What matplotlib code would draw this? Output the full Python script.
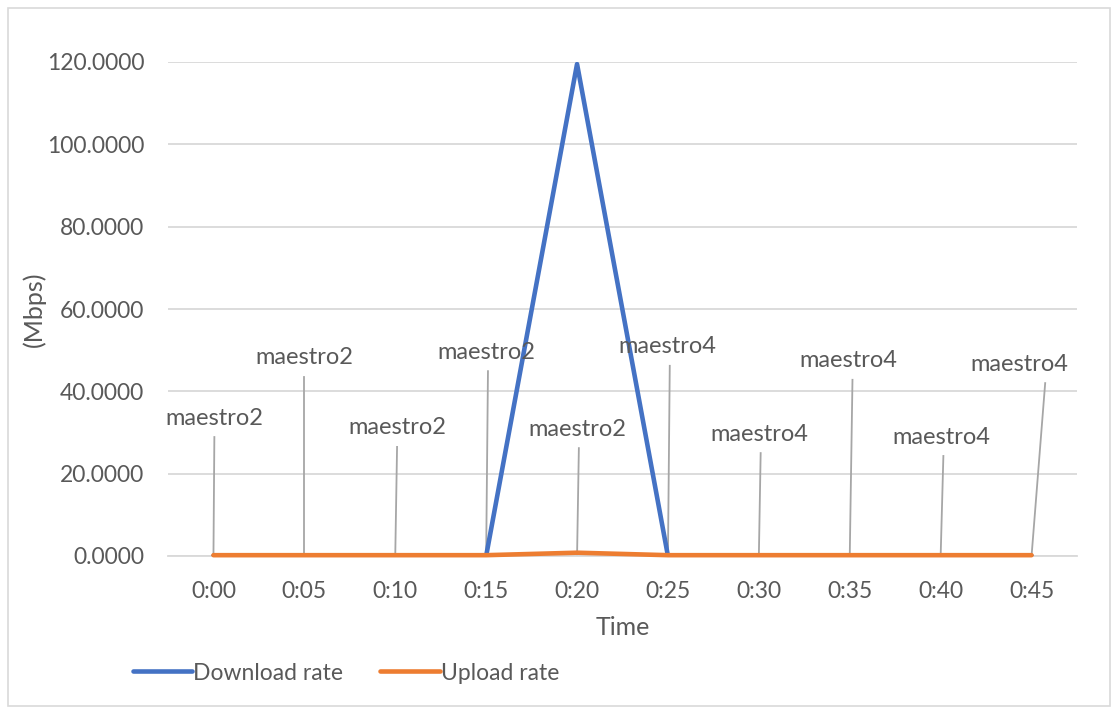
import matplotlib
matplotlib.use("Agg")
import matplotlib.pyplot as plt
from matplotlib.patches import Rectangle

times = ["0:00", "0:05", "0:10", "0:15", "0:20", "0:25", "0:30", "0:35", "0:40", "0:45"]
download = [0, 0, 0, 0, 119.5, 0, 0, 0, 0, 0]
upload = [0.2, 0.2, 0.2, 0.2, 0.8, 0.2, 0.2, 0.2, 0.2, 0.2]
hosts = ["maestro2", "maestro2", "maestro2", "maestro2", "maestro2",
         "maestro4", "maestro4", "maestro4", "maestro4", "maestro4"]

# where each leader line ends (x shift in categories, y in Mbps)
label_dx = [0.01, 0, 0.02, 0.02, 0.02, 0.02, 0.02, 0.03, 0.03, 0.15]
label_y = [28.9, 43.5, 26.5, 44.9, 26.2, 46.2, 25.0, 42.8, 24.3, 42.0]
text_dx = [0, 0, 0, -0.02, -0.02, -0.03, -0.01, -0.05, -0.02, -0.29]

plt.rcParams['font.family'] = ['Lato', 'DejaVu Sans']
grey = '#595959'

fig = plt.figure(figsize=(11.2, 7.11), dpi=100)
fig.patches.append(Rectangle((8 / 1120, 5 / 711), 1102 / 1120, 698 / 711,
                             transform=fig.transFigure, fill=False,
                             edgecolor='#d9d9d9', linewidth=1.2))
ax = fig.add_axes([168 / 1120, 1 - 556 / 711, 909 / 1120, 494 / 711])

x = list(range(len(times)))
ax.plot(x, download, color='#4472C4', linewidth=3.3, solid_capstyle='round',
        label='Download rate', zorder=3)
ax.plot(x, upload, color='#ED7D31', linewidth=3.3, solid_capstyle='round',
        label='Upload rate', zorder=4, clip_on=False)

for i, h in enumerate(hosts):
    ax.plot([x[i], x[i] + label_dx[i]], [0, label_y[i]],
            color='#a6a6a6', linewidth=1.3, zorder=2)
    ax.text(x[i] + label_dx[i] + text_dx[i], label_y[i] + 4.6, h,
            ha='center', va='center', fontsize=17, color=grey)

ax.set_xlim(-0.5, len(times) - 0.5)
ax.set_ylim(0, 120)
ax.set_yticks([0, 20, 40, 60, 80, 100, 120])
ax.set_yticklabels([f"{v:.4f}" for v in [0, 20, 40, 60, 80, 100, 120]])
ax.set_xticks(x)
ax.set_xticklabels(times)
ax.tick_params(axis='both', length=0, labelsize=16.5, labelcolor=grey)
ax.tick_params(axis='y', pad=17)
ax.tick_params(axis='x', pad=18)
ax.grid(axis='y', color='#d9d9d9', linewidth=1.3)
ax.set_axisbelow(True)
for s in ['top', 'right', 'left']:
    ax.spines[s].set_visible(False)
ax.spines['bottom'].set_color('#d9d9d9')
ax.spines['bottom'].set_linewidth(1.3)

ax.set_xlabel('Time', fontsize=18, color=grey)
ax.set_ylabel('(Mbps)', fontsize=18, color=grey)
ax.xaxis.set_label_coords(0.5, -(616 - 556) / 494)
ax.yaxis.set_label_coords(-(168 - 46) / 909, 0.5)

fig.legend(loc='center left', bbox_to_anchor=(112 / 1120, 1 - 673 / 711), ncol=2,
           frameon=False, fontsize=16.5, labelcolor=grey, handlelength=2.6,
           handletextpad=0.05, columnspacing=1.6)

fig.savefig('out.png', dpi=100)
